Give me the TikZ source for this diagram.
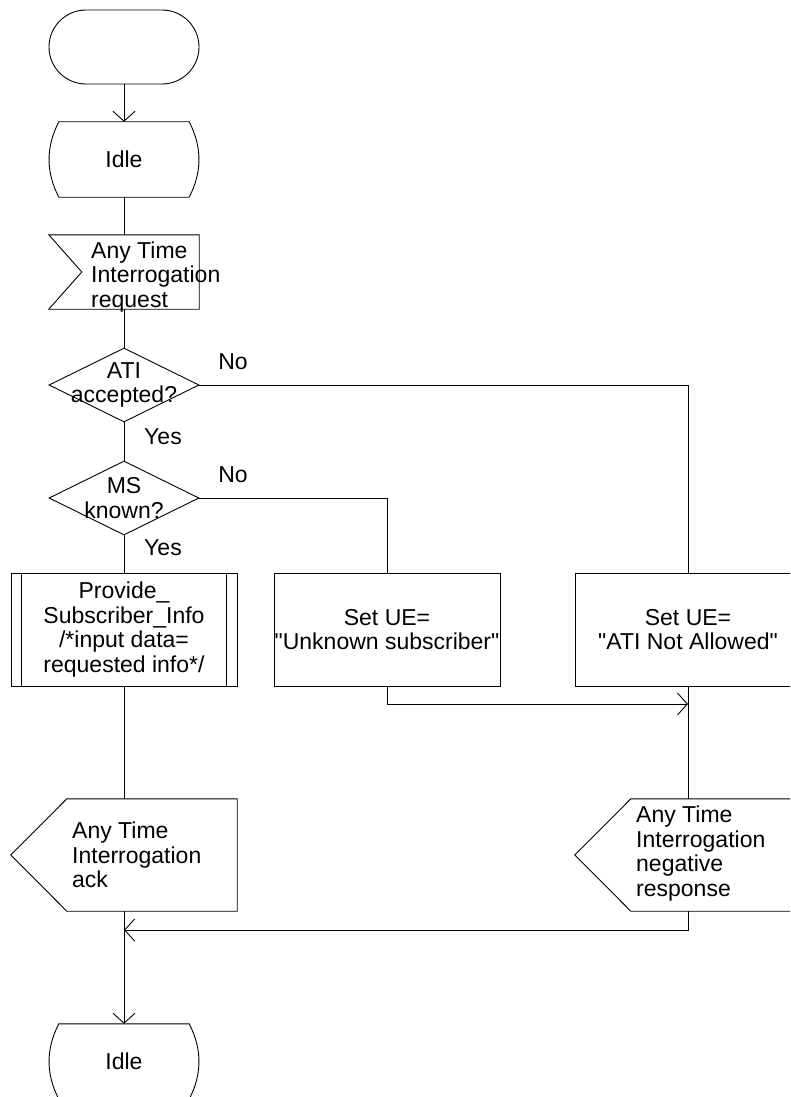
\documentclass[tikz,border=0pt]{standalone}
\usepackage{fontspec}
\setmainfont{Liberation Sans}
\usetikzlibrary{shapes.geometric,arrows.meta,calc}

\tikzset{
  sdl/.style={line width=0.9pt},
  arr/.style={sdl,-{Straight Barb[length=10pt,width=22pt,line width=0.9pt]}},
  terminal/.style={draw,sdl,rounded corners=37pt,minimum width=150pt,minimum height=74pt,inner sep=0pt},
  statebox/.style={minimum width=150pt,minimum height=75pt,inner sep=0pt},
  sigbox/.style={minimum width=150pt,minimum height=74pt,inner sep=0pt},
  decision/.style={diamond,draw,sdl,minimum width=150pt,minimum height=74pt,inner sep=0pt},
  taskbox/.style={draw,sdl,minimum width=226pt,minimum height=113pt,inner sep=0pt,align=center},
  outbox/.style={minimum width=226pt,minimum height=112pt,inner sep=0pt},
  lbl/.style={inner sep=0pt,align=left},
}

\begin{document}
\begin{tikzpicture}[x=1pt,y=-1pt,font=\fontsize{23pt}{24.5pt}\selectfont]
\useasboundingbox (0,0) rectangle (790,1097);
\clip (0,0) rectangle (790,1097);

% start and first state
\node[terminal] (start) at (124,47) {};
\node[statebox] (idle1) at (124,159.5) {Idle};

% incoming request
\node[sigbox] (atireq) at (124,272) {};
\node[lbl,anchor=west] (atireqtxt) at (91,277) {Any Time\\Interrogation\\request};
\draw[sdl] (atireq.north west) -- (atireq.north east) -- (atireq.south east)
  -- (atireq.south west) -- ($(atireq.west)+(33,0)$) -- cycle;

% decisions
\node[decision] (ati) at (124,385) {};
\node[lbl,align=center] (atitxt) at (ati) {ATI\\accepted?};
\node (atino) at (233,362) {No};
\node (atiyes) at (163,437) {Yes};

\node[decision] (ms) at (124,498) {};
\node[lbl,align=center] (mstxt) at (ms) {MS\\known?};
\node (msno) at (233,475) {No};
\node (msyes) at (163,548) {Yes};

% tasks
\node[taskbox] (proc) at (124,629.5) {Provide\_\\Subscriber\_Info\\/*input data=\\requested info*/};
\draw[sdl] ($(proc.north west)+(11,0)$) -- ($(proc.south west)+(11,0)$)
  ($(proc.north east)+(-11,0)$) -- ($(proc.south east)+(-11,0)$);
\node[taskbox] (unkn) at (387,629.5) {Set UE=\\\textquotedbl Unknown subscriber\textquotedbl};
\node[taskbox] (notall) at (688,629.5) {Set UE=\\\textquotedbl ATI Not Allowed\textquotedbl};

% outgoing responses
\node[outbox] (ack) at (124,855) {};
\node[lbl,anchor=west] (acktxt) at (72,855) {Any Time\\Interrogation\\ack};
\node[outbox] (negresp) at (688,855) {};
\node[lbl,anchor=west] (negresptxt) at (636,853.5) {Any Time\\Interrogation\\negative\\response};
\foreach \s in {ack,negresp}
  \draw[sdl] ($(\s.north west)+(56,0)$) -- (\s.north east) -- (\s.south east)
    -- ($(\s.south west)+(56,0)$) -- (\s.west) -- cycle;

% back to idle
\node[statebox] (idle2) at (124,1061.5) {Idle};
\foreach \s in {idle1,idle2}
  \draw[sdl] ($(\s.north west)+(10,0)$) -- ($(\s.north east)+(-10,0)$)
    .. controls ($(\s.east)+(3,-12.5)$) and ($(\s.east)+(3,12.5)$) .. ($(\s.south east)+(-10,0)$)
    -- ($(\s.south west)+(10,0)$)
    .. controls ($(\s.west)+(-3,12.5)$) and ($(\s.west)+(-3,-12.5)$) .. cycle;

% connectors
\coordinate (join1) at (688,704);
\coordinate (join2) at (124,930);
\draw[arr] (start) -- (idle1);
\draw[sdl] (idle1) -- (atireq);
\draw[sdl] (atireq) -- (ati);
\draw[sdl] (ati) -- (ms);
\draw[sdl] (ms) -- (proc);
\draw[sdl] (proc) -- (ack);
\draw[arr] (ack) -- (idle2);
\draw[sdl] (ati.east) -| (notall.north);
\draw[sdl] (ms.east) -| (unkn.north);
\draw[sdl] (notall) -- (negresp);
\draw[arr] (unkn.south) |- (join1);
\draw[arr] (negresp.south) |- (join2);
\end{tikzpicture}
\end{document}
